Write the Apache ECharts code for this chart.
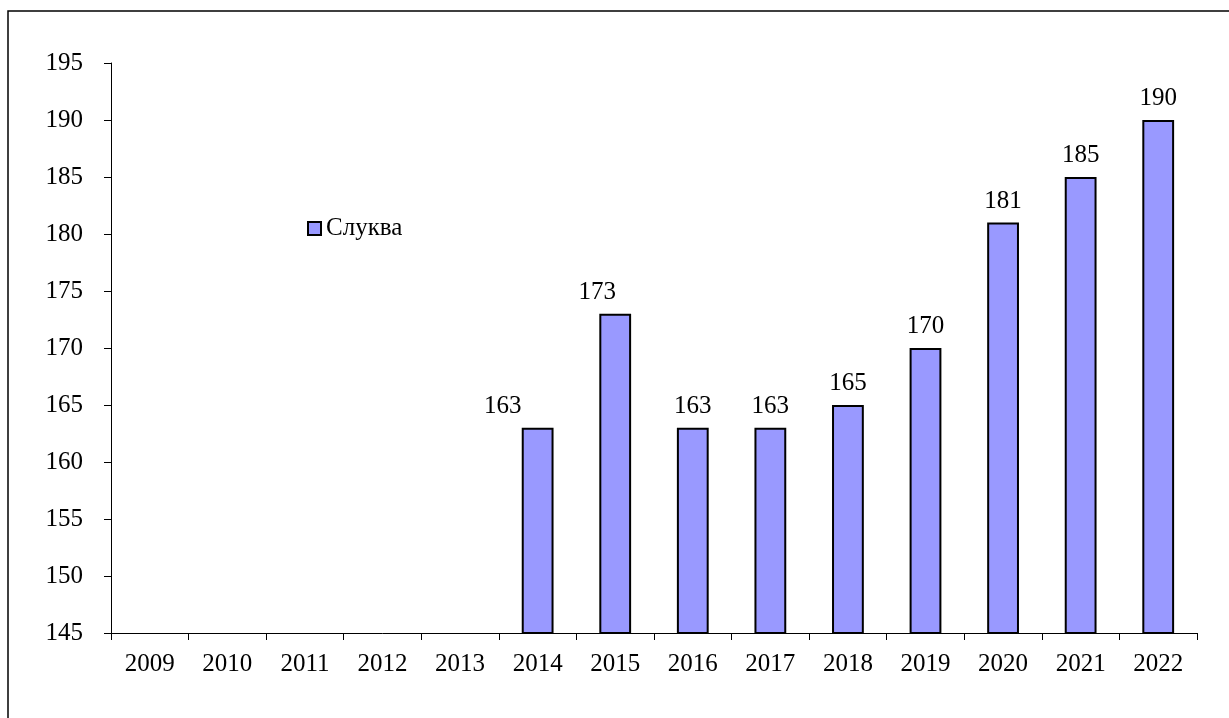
<!DOCTYPE html>
<html>
<head>
<meta charset="utf-8">
<script src="https://cdn.jsdelivr.net/npm/echarts@6/dist/echarts.min.js"></script>
<style>
html,body{margin:0;padding:0;background:#fff;}
#chart{width:1229px;height:718px;}
</style>
</head>
<body>
<div id="chart"></div>
<script>
const categories = ['2009','2010','2011','2012','2013','2014','2015','2016','2017','2018','2019','2020','2021','2022'];
const seriesName = 'Слуква';
const values = [null,null,null,null,null,163,173,163,163,165,170,181,185,190];
const labelShifts = [0,0,0,0,0,-35,-18,0,0,0,0,0,0,0];

const fontFamily = '"Liberation Serif","Times New Roman",serif';
const chart = echarts.init(document.getElementById('chart'), null, {renderer:'canvas'});
chart.setOption({
  animation:false,
  backgroundColor:'#fff',
  graphic:[{
    type:'rect', shape:{x:8,y:11,width:1400,height:900},
    style:{fill:'none', stroke:'#000', lineWidth:1.5}, silent:true, z:-1
  }],
  legend:{
    left:302, top:211, itemWidth:13, itemHeight:13, itemGap:6,
    icon:'rect',
    textStyle:{fontFamily:fontFamily, fontSize:25, color:'#000', padding:[0,0,0,0]},
    data:[{name:seriesName, itemStyle:{color:'#9999FF', borderColor:'#000', borderWidth:2}}]
  },
  grid:{left:111, right:32, top:63, bottom:85, containLabel:false},
  xAxis:{
    type:'category', data:categories, boundaryGap:true,
    axisLine:{lineStyle:{color:'#000', width:1}},
    axisTick:{show:true, alignWithLabel:false, length:7, inside:false, lineStyle:{color:'#000'}},
    axisLabel:{fontFamily:fontFamily, fontSize:25, color:'#000', margin:19, interval:0}
  },
  yAxis:{
    type:'value', min:145, max:195, interval:5,
    splitLine:{show:false},
    axisLine:{show:true, lineStyle:{color:'#000', width:1}},
    axisTick:{show:true, length:7, lineStyle:{color:'#000'}},
    axisLabel:{fontFamily:fontFamily, fontSize:25, color:'#000', margin:28}
  },
  series:[{
    name:seriesName, type:'bar', barWidth:'41%',
    data: values.map((v,i)=>({value:v, label:{offset:[labelShifts[i],0]}})),
    itemStyle:{color:'#9999FF', borderColor:'#000', borderWidth:2},
    label:{show:true, position:'top', distance:9, fontFamily:fontFamily, fontSize:25, color:'#000'}
  }]
});
</script>
</body>
</html>
